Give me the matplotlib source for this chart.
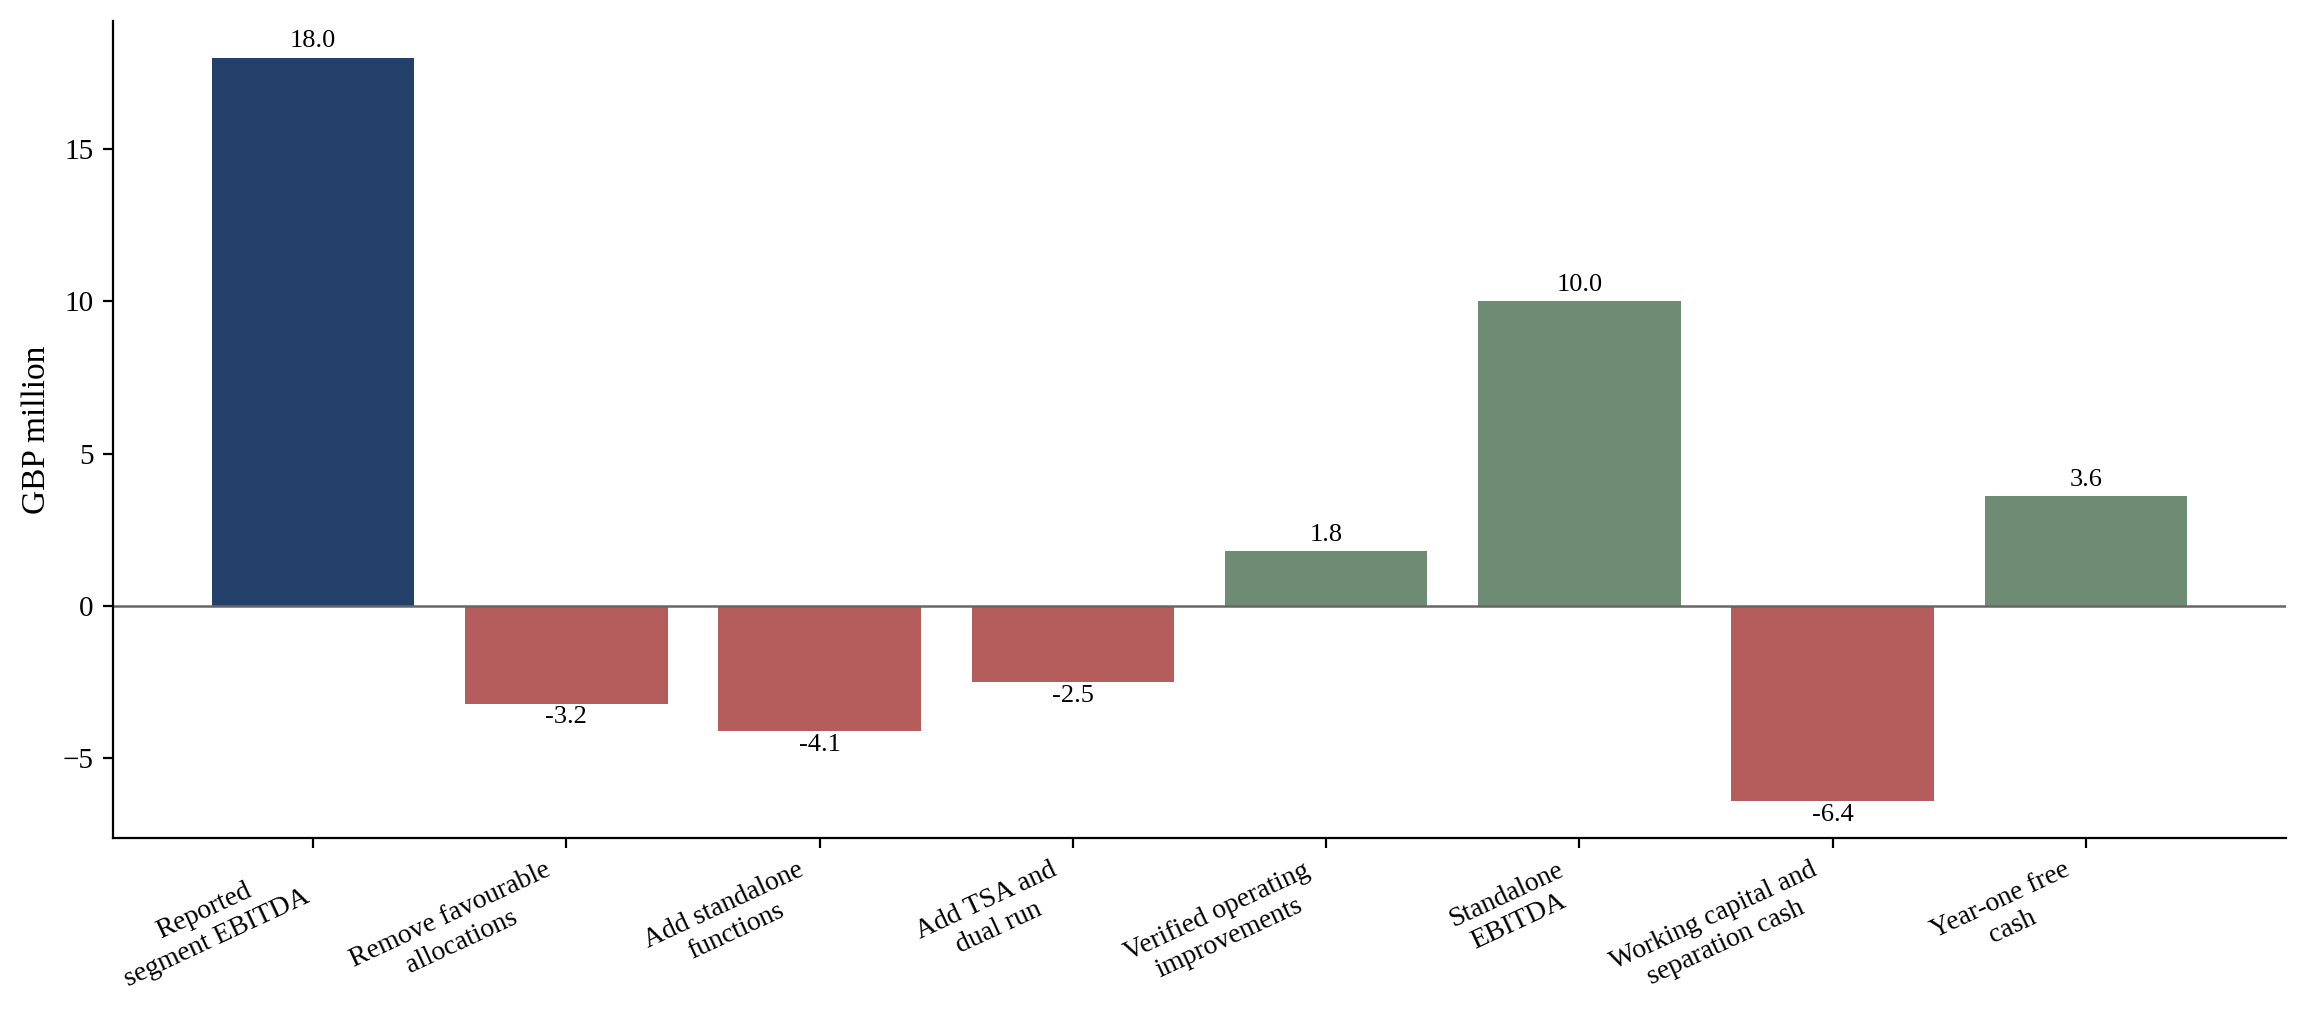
# Standalone EBITDA bridge - bar chart

import matplotlib.pyplot as plt

# data
labels = ["Reported\nsegment EBITDA", "Remove favourable\nallocations", "Add standalone\nfunctions",
          "Add TSA and\ndual run", "Verified operating\nimprovements", "Standalone\nEBITDA",
          "Working capital and\nseparation cash", "Year-one free\ncash"]
values = [18.0, -3.2, -4.1, -2.5, 1.8, 10.0, -6.4, 3.6]
kinds = ["start", "neg", "neg", "neg", "pos", "total", "neg", "total"]

colours = {"start": "#22406a", "neg": "#b55d5c", "pos": "#6e8c74", "total": "#6e8c74"}

plt.rcParams["font.family"] = ["Liberation Serif", "DejaVu Serif"]

fig = plt.figure(figsize=(2309 / 200, 1026 / 200), dpi=200)
ax = fig.add_axes([0.049, 0.183, 0.941, 0.797])

x = list(range(len(values)))
bars = ax.bar(x, values, width=0.8, color=[colours[k] for k in kinds])
ax.axhline(0, color="#666666", lw=0.9)

for b, v in zip(bars, values):
    if v >= 0:
        ax.annotate(f"{v:.1f}", (b.get_x() + b.get_width() / 2, v), xytext=(0, 2),
                    textcoords="offset points", ha="center", va="bottom", fontsize=9.5)
    else:
        ax.annotate(f"{v:.1f}", (b.get_x() + b.get_width() / 2, v), xytext=(0, -1),
                    textcoords="offset points", ha="center", va="top", fontsize=9.5)

ax.set_xticks(x)
ax.set_xticklabels(labels, rotation=25, ha="right", multialignment="center", fontsize=10)
ax.tick_params(axis="y", labelsize=10.5)
ax.set_ylabel("GBP million", fontsize=12)

ax.spines["top"].set_visible(False)
ax.spines["right"].set_visible(False)

fig.savefig("out.png", dpi=200)
